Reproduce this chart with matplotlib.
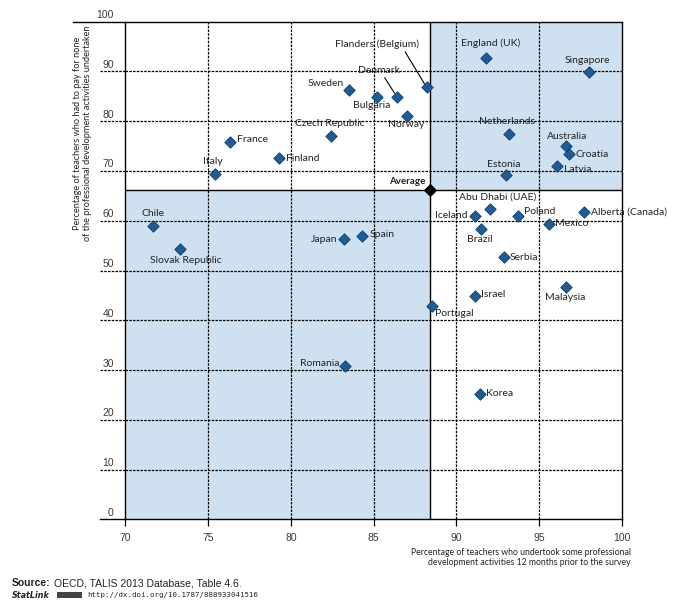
import matplotlib
matplotlib.use("Agg")
import matplotlib.pyplot as plt
from matplotlib import font_manager
from matplotlib.patches import Rectangle

# data
countries = ["Flanders (Belgium)", "Denmark", "Sweden", "Bulgaria", "Norway",
             "Czech Republic", "France", "Finland", "Italy", "England (UK)",
             "Singapore", "Netherlands", "Australia", "Croatia", "Latvia",
             "Estonia", "Chile", "Slovak Republic", "Japan", "Spain", "Romania",
             "Portugal", "Abu Dhabi (UAE)", "Iceland", "Poland", "Alberta (Canada)",
             "Mexico", "Brazil", "Serbia", "Israel", "Malaysia", "Korea"]
undertook = [88.2, 86.4, 83.5, 85.2, 87.0, 82.4, 76.3, 79.3, 75.4, 91.8,
             98.0, 93.2, 96.6, 96.8, 96.1, 93.0, 71.7, 73.3, 83.2, 84.3, 83.3,
             88.5, 92.0, 91.1, 93.7, 97.7, 95.6, 91.5, 92.9, 91.1, 96.6, 91.4]
paid_none = [86.8, 84.9, 86.3, 84.9, 81.0, 77.1, 75.8, 72.6, 69.3, 92.7,
             89.8, 77.4, 75.0, 73.4, 71.1, 69.1, 58.9, 54.3, 56.3, 57.0, 30.8,
             42.8, 62.4, 61.0, 61.0, 61.8, 59.4, 58.3, 52.7, 44.9, 46.7, 25.2]
avg_x, avg_y = 88.4, 66.1
x_ticks = [70, 75, 80, 85, 90, 95, 100]
y_ticks = [0, 10, 20, 30, 40, 50, 60, 70, 80, 90, 100]

# label placement: offset in points, horizontal alignment
label_pos = {
    "Flanders (Belgium)": (-36, 31, "center"), "Denmark": (-13, 19, "center"),
    "Sweden": (-4, 4.6, "right"), "Bulgaria": (-4, -6.5, "center"),
    "Norway": (-0.5, -6, "center"), "Czech Republic": (-0.5, 9, "center"),
    "France": (5.5, 2.2, "left"), "Finland": (4.5, 0, "left"),
    "Italy": (-1.2, 9, "center"), "England (UK)": (3, 10.5, "center"),
    "Singapore": (-1.2, 8.4, "center"), "Netherlands": (-1.7, 9.4, "center"),
    "Australia": (1, 7.2, "center"), "Croatia": (4.8, -0.5, "left"),
    "Latvia": (4.6, -2.9, "left"), "Estonia": (-1.7, 8.1, "center"),
    "Chile": (0, 9.4, "center"), "Slovak Republic": (4, -8.1, "center"),
    "Japan": (-4.6, 0, "right"), "Spain": (5.8, 0.5, "left"),
    "Romania": (-4.6, 2, "right"), "Portugal": (2.8, -5, "left"),
    "Abu Dhabi (UAE)": (5.8, 8.6, "center"), "Iceland": (-4.8, 0, "right"),
    "Poland": (4.2, 3.1, "left"), "Alberta (Canada)": (4.8, 0, "left"),
    "Mexico": (4, 0, "left"), "Brazil": (-1.2, -7.5, "center"),
    "Serbia": (4, 0, "left"), "Israel": (4.4, 1, "left"),
    "Malaysia": (-0.4, -7.9, "center"), "Korea": (4.6, 0, "left"),
}
leaders = {"Flanders (Belgium)": (0.82, 0.0), "Denmark": (0.6, 0.0)}


def pick_font(candidates):
    for name in candidates:
        try:
            font_manager.findfont(name, fallback_to_default=False)
            return name
        except ValueError:
            continue
    return "DejaVu Sans"


SHADE = "#cfe1f0"
MARKER = "#1e5c96"
LABEL_FONT = pick_font(["Lato", "Open Sans", "Noto Sans"])
NUM_FONT = pick_font(["Liberation Sans", "Arimo"])

fig = plt.figure(figsize=(6.78, 6.11), dpi=100)
ax = fig.add_axes([0.1848, 0.150, 0.7326, 0.8145])
ax.set_xlim(70, 100)
ax.set_ylim(0, 100)

# shaded quadrants
ax.add_patch(Rectangle((70, 0), avg_x - 70, avg_y, facecolor=SHADE, edgecolor="none", zorder=0))
ax.add_patch(Rectangle((avg_x, avg_y), 100 - avg_x, 100 - avg_y, facecolor=SHADE, edgecolor="none", zorder=0))

# grid
for x in x_ticks[1:-1]:
    ax.axvline(x, color="black", lw=0.9, ls=(0, (2, 1)), zorder=1)
ytr = ax.get_yaxis_transform()
for y in y_ticks:
    if y in (0, 100):
        continue
    ax.axhline(y, color="black", lw=0.9, ls=(0, (2, 1)), zorder=1)
    ax.plot([-0.05, 0], [y, y], transform=ytr, color="black", lw=0.9,
            ls=(0, (2, 1)), clip_on=False)
ax.plot([-0.05, 0], [0, 0], transform=ytr, color="black", lw=1.0, clip_on=False)
ax.plot([-0.105, 0], [100, 100], transform=ytr, color="black", lw=1.0, clip_on=False)
for y in y_ticks:
    ax.text(-0.023, y + 0.3, str(y), transform=ytr, ha="right", va="bottom",
            fontsize=7.5, color="#3c3c30", family=NUM_FONT)

# average cross lines
ax.axvline(avg_x, color="black", lw=1.0, zorder=2)
ax.axhline(avg_y, color="black", lw=1.0, zorder=2)

# points
ax.scatter(undertook, paid_none, marker="D", s=34, facecolor=MARKER,
           edgecolor="#123e68", linewidth=0.6, zorder=4)
ax.scatter([avg_x], [avg_y], marker="D", s=34, facecolor="black",
           edgecolor="black", zorder=5)

for name, x, y in zip(countries, undertook, paid_none):
    dx, dy, ha = label_pos[name]
    arrow = None
    if name in leaders:
        arrow = dict(arrowstyle="-", color="black", lw=0.8,
                     relpos=leaders[name], shrinkA=0, shrinkB=3)
    ax.annotate(name, (x, y), xytext=(dx, dy), textcoords="offset points",
                ha=ha, va="center", fontsize=7.5, color="#222222",
                family=LABEL_FONT, arrowprops=arrow, zorder=6,
                annotation_clip=False)
ax.annotate("Average", (avg_x, avg_y), xytext=(-2.9, 6.7), textcoords="offset points",
            ha="right", va="center", fontsize=7, fontweight="bold",
            color="#222222", family=LABEL_FONT)

# axes
for side in ["left", "right", "top", "bottom"]:
    ax.spines[side].set_linewidth(1.0)
    ax.spines[side].set_color("black")
ax.set_yticks([])
ax.set_xticks(x_ticks)
ax.set_xticklabels([str(v) for v in x_ticks], fontsize=7.5, color="#3c3c30",
                   family=NUM_FONT)
ax.tick_params(axis="x", direction="out", length=5, width=0.9, pad=5)

ax.text(1.017, -0.058, "Percentage of teachers who undertook some professional\n"
        "development activities 12 months prior to the survey",
        transform=ax.transAxes, ha="right", va="top", fontsize=6.2,
        family=LABEL_FONT, color="#222222", linespacing=1.15)
ax.text(-0.087, 0.776, "Percentage of teachers who had to pay for none\n"
        "of the professional development activities undertaken",
        transform=ax.transAxes, ha="center", va="center", rotation=90,
        fontsize=6.6, family=LABEL_FONT, color="#222222", linespacing=1.15)

# source lines
src = fig.text(12 / 678, 1 - 583 / 611, "Source:", ha="left", va="center",
               fontsize=7.5, fontweight="bold", family=NUM_FONT, color="#222222")
ax.annotate("OECD, TALIS 2013 Database, Table 4.6.", xy=(1, 0.5), xycoords=src,
            xytext=(2.5, 0), textcoords="offset points",
            ha="left", va="center", fontsize=7.5, family=NUM_FONT, color="#222222",
            annotation_clip=False)
fig.text(12 / 678, 1 - 595 / 611, "StatLink", ha="left", va="center", fontsize=5.8,
         fontweight="bold", style="italic", family="DejaVu Sans", color="#222222")
fig.patches.append(Rectangle((57 / 678, 1 - 598 / 611), 25 / 678, 6 / 611,
                             transform=fig.transFigure, facecolor="#444444",
                             edgecolor="none"))
fig.text(87 / 678, 1 - 595 / 611, "http://dx.doi.org/10.1787/888933041516",
         ha="left", va="center", fontsize=5.3, family="DejaVu Sans Mono", color="#222222")

fig.savefig("out.png", dpi=100)
